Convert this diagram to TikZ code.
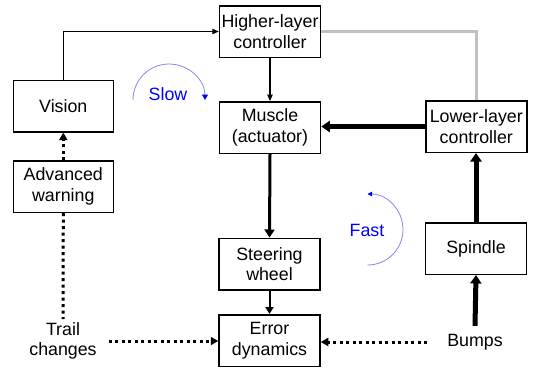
\documentclass[tikz,border=0pt]{standalone}
\usepackage{fontspec}
\setmainfont{Liberation Sans}
\usetikzlibrary{arrows.meta}
\definecolor{arcblue}{RGB}{135,135,240}
\definecolor{linegray}{RGB}{192,192,192}
\begin{document}
\begin{tikzpicture}[x=1bp,y=-1bp,
  txt/.style={font=\fontsize{17.8bp}{20.7bp}\selectfont, align=center},
  box/.style={txt, draw, line width=1.5bp, minimum width=101bp, minimum height=51.5bp, inner sep=0pt},
  lbl/.style={txt, inner sep=0pt},
  thinarrow/.style={line width=1.1bp, -{Triangle[length=6.5bp,width=5.5bp]}},
  medarrow/.style={line width=3bp, -{Triangle[length=8bp,width=10bp]}},
  smallarrow/.style={line width=2bp, -{Triangle[length=7bp,width=8bp]}},
  fatarrow/.style={line width=5bp, -{Triangle[length=8.5bp,width=11bp]}},
  dotline/.style={line width=3bp, dash pattern=on 3bp off 3.5bp},
  dotarrow/.style={dotline, -{Triangle[length=7.5bp,width=8bp]}},
  grayline/.style={line width=3bp, linegray},
  cycle/.style={line width=0.8bp, arcblue},
  cyclelbl/.style={font=\fontsize{17.8bp}{20.7bp}\selectfont, text=blue, inner sep=0pt}
]
\useasboundingbox[fill=white] (0,0) rectangle (534,369);

% boxes
\node[box] (higher) at (270,31.5) {Higher-layer\\controller};
\node[box, minimum width=100bp] (vision) at (63.3,106) {Vision};
\node[box] (muscle) at (270,127.5) {Muscle\\(actuator)};
\node[box] (lower) at (476.3,126.5) {Lower-layer\\controller};
\node[box, minimum width=100bp] (adv) at (63.3,186.5) {Advanced\\warning};
\node[box] (spindle) at (476,248.5) {Spindle};
\node[box] (steer) at (269.5,264) {Steering\\wheel};
\node[box] (error) at (269.5,340.5) {Error\\dynamics};

% free labels
\node[lbl, inner xsep=12bp, inner ysep=3bp] (trail) at (63,341) {Trail\\changes};
\node[lbl, inner xsep=20bp, inner ysep=8bp] (bumps) at (475,342) {Bumps};

% connectors
\draw[thinarrow] (vision.north) |- (higher.west);
\draw[grayline] (higher.east) -| (lower.north);
\draw[thinarrow] (higher.south) -- (muscle.north);
\draw[fatarrow] (lower.west) -- (lower.west -| muscle.east);
\draw[medarrow] (muscle.south) -- (steer.north);
\draw[smallarrow] (steer.south) -- (error.north);
\draw[fatarrow] (spindle.north) -- (spindle.north |- lower.south);
\draw[fatarrow] (bumps.north) -- (spindle.south);
\draw[dotarrow] (adv.north) -- (vision.south);
\draw[dotline] (adv.south) -- (trail.north);
\draw[dotarrow] (trail.east) -- (trail.east -| error.west);
\draw[dotarrow] (bumps.west) -- (bumps.west -| error.east);

% slow / fast cycles
\coordinate (slowstart) at (133,100);
\coordinate (faststart) at (367.5,265);
\draw[cycle, -{Triangle[length=5.5bp,width=6bp,color=blue]}] (slowstart) arc[start angle=180, end angle=360, radius=36];
\draw[cycle, -{Triangle[length=4.5bp,width=4.5bp,color=blue]}] (faststart) arc[start angle=90, end angle=-90, radius=35.5];
\node[cyclelbl] (slow) at (168,94.5) {Slow};
\node[cyclelbl] (fast) at (367,230) {Fast};
\end{tikzpicture}
\end{document}
